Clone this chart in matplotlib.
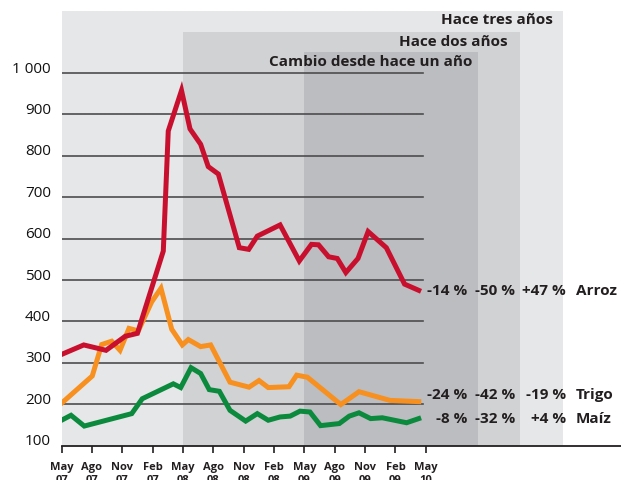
import matplotlib.pyplot as plt
from matplotlib.patches import Rectangle

plt.rcParams['font.family'] = ['Open Sans', 'DejaVu Sans']

# months since May 2007
arroz_t = [0, 2.2, 4.4, 6.3, 7.5, 10.06, 10.55, 11.86, 12.7, 13.75, 14.5, 15.5,
           17.57, 18.5, 19.35, 21.6, 23.5, 24.7, 25.4, 26.4, 27.25, 28.1, 29.3,
           30.3, 32.1, 33.9, 35.3]
arroz = [320, 343, 330, 364, 371, 570, 860, 958, 865, 828, 774, 756,
         578, 574, 606, 633, 546, 586, 585, 556, 552, 518, 552,
         617, 578, 490, 475]

trigo_t = [0, 3.04, 3.97, 4.96, 5.78, 6.67, 7.59, 8.91, 9.83, 10.89, 11.94, 12.53,
           13.75, 14.74, 16.65, 18.53, 19.52, 20.43, 22.48, 23.24, 24.3, 27.6,
           29.4, 32.46, 35.3]
trigo = [202, 268, 344, 352, 330, 383, 377, 447, 480, 381, 343, 356,
         339, 343, 253, 241, 257, 240, 242, 270, 265, 199,
         230, 209, 206]

maiz_t = [0, 0.94, 2.25, 6.94, 7.98, 11.05, 11.78, 12.8, 13.75, 14.6, 15.6, 16.65,
          18.2, 19.35, 20.43, 21.6, 22.6, 23.57, 24.55, 25.6, 27.45, 28.44, 29.4,
          30.55, 31.7, 34.1, 35.3]
maiz = [161, 173, 147, 177, 213, 249, 240, 288, 274, 235, 231, 185,
        159, 177, 161, 169, 171, 183, 181, 148, 153, 171, 179,
        165, 167, 155, 165]

tick_pos = [0, 3, 6, 9, 12, 15, 18, 21, 24, 27, 30, 33, 36]
tick_labels = ['May\n07', 'Ago\n07', 'Nov\n07', 'Feb\n07', 'May\n08', 'Ago\n08', 'Nov\n08',
               'Feb\n08', 'May\n09', 'Ago\n09', 'Nov\n09', 'Feb\n09', 'May\n10']
y_ticks = [100, 200, 300, 400, 500, 600, 700, 800, 900, 1000]
y_labels = ['100', '200', '300', '400', '500', '600', '700', '800', '900', '1 000']

names = ['Arroz', 'Trigo', 'Maíz']
chg_1 = ['-14 %', '-24 %', '-8 %']
chg_2 = ['-50 %', '-42 %', '-32 %']
chg_3 = ['+47 %', '-19 %', '+4 %']

W, H = 621, 481
fig = plt.figure(figsize=(W / 100, H / 100), dpi=100)
ax = fig.add_axes([61.5 / W, (H - 446.5) / H, (W - 61.5) / W, (446.5 - 12) / H])
ax.set_xlim(0, 55.29)
ax.set_ylim(100, 1150)

# shaded period bands
ax.add_patch(Rectangle((0, 100), 49.55, 1050, color='#e6e7e8', lw=0, zorder=0))
ax.add_patch(Rectangle((12, 100), 33.3, 999, color='#d1d2d4', lw=0, zorder=0.1))
ax.add_patch(Rectangle((24, 100), 17.2, 951, color='#bcbdc0', lw=0, zorder=0.2))

for v in y_ticks[1:]:
    ax.plot([0, 35.7], [v, v], color='#4d4d4f', lw=1.2, zorder=1)

ax.plot(maiz_t, maiz, color='#0b8a3d', lw=3.6, zorder=3, solid_joinstyle='miter')
ax.plot(trigo_t, trigo, color='#f7901e', lw=3.6, zorder=3, solid_joinstyle='miter')
ax.plot(arroz_t, arroz, color='#c8102e', lw=3.6, zorder=3, solid_joinstyle='miter')

for s in ['top', 'right', 'left']:
    ax.spines[s].set_visible(False)
ax.spines['bottom'].set_linewidth(1.3)
ax.spines['bottom'].set_color('#231f20')
ax.set_facecolor('none')
ax.set_yticks([])
ax.set_xticks(tick_pos)
ax.set_xticklabels(tick_labels, fontsize=8, fontweight='bold', linespacing=1.2,
                   color='#231f20')
ax.tick_params(axis='x', length=5, width=1.2, pad=6.5, color='#231f20')

for v, lab in zip(y_ticks, y_labels):
    ax.annotate(lab, (0, v), xytext=(-7.5, 3.5), textcoords='offset points',
                ha='right', va='center', fontsize=11, color='#111111',
                annotation_clip=False)

def ftext(x, y, s, **kw):
    fig.text(x / W, 1 - y / H, s, fontweight='bold', color='#231f20', va='center', **kw)

ftext(553, 20, 'Hace tres años', ha='right', fontsize=11)
ftext(508, 42, 'Hace dos años', ha='right', fontsize=11)
ftext(472, 62, 'Cambio desde hace un año', ha='right', fontsize=11)

rows_y = [291.5, 395, 419]
for yy, n, a, b, c in zip(rows_y, names, chg_1, chg_2, chg_3):
    ftext(467, yy, a, ha='right', fontsize=11)
    ftext(515, yy, b, ha='right', fontsize=11)
    ftext(566, yy, c, ha='right', fontsize=11)
    ftext(576, yy, n, ha='left', fontsize=11)

fig.savefig('out.png', dpi=100)
